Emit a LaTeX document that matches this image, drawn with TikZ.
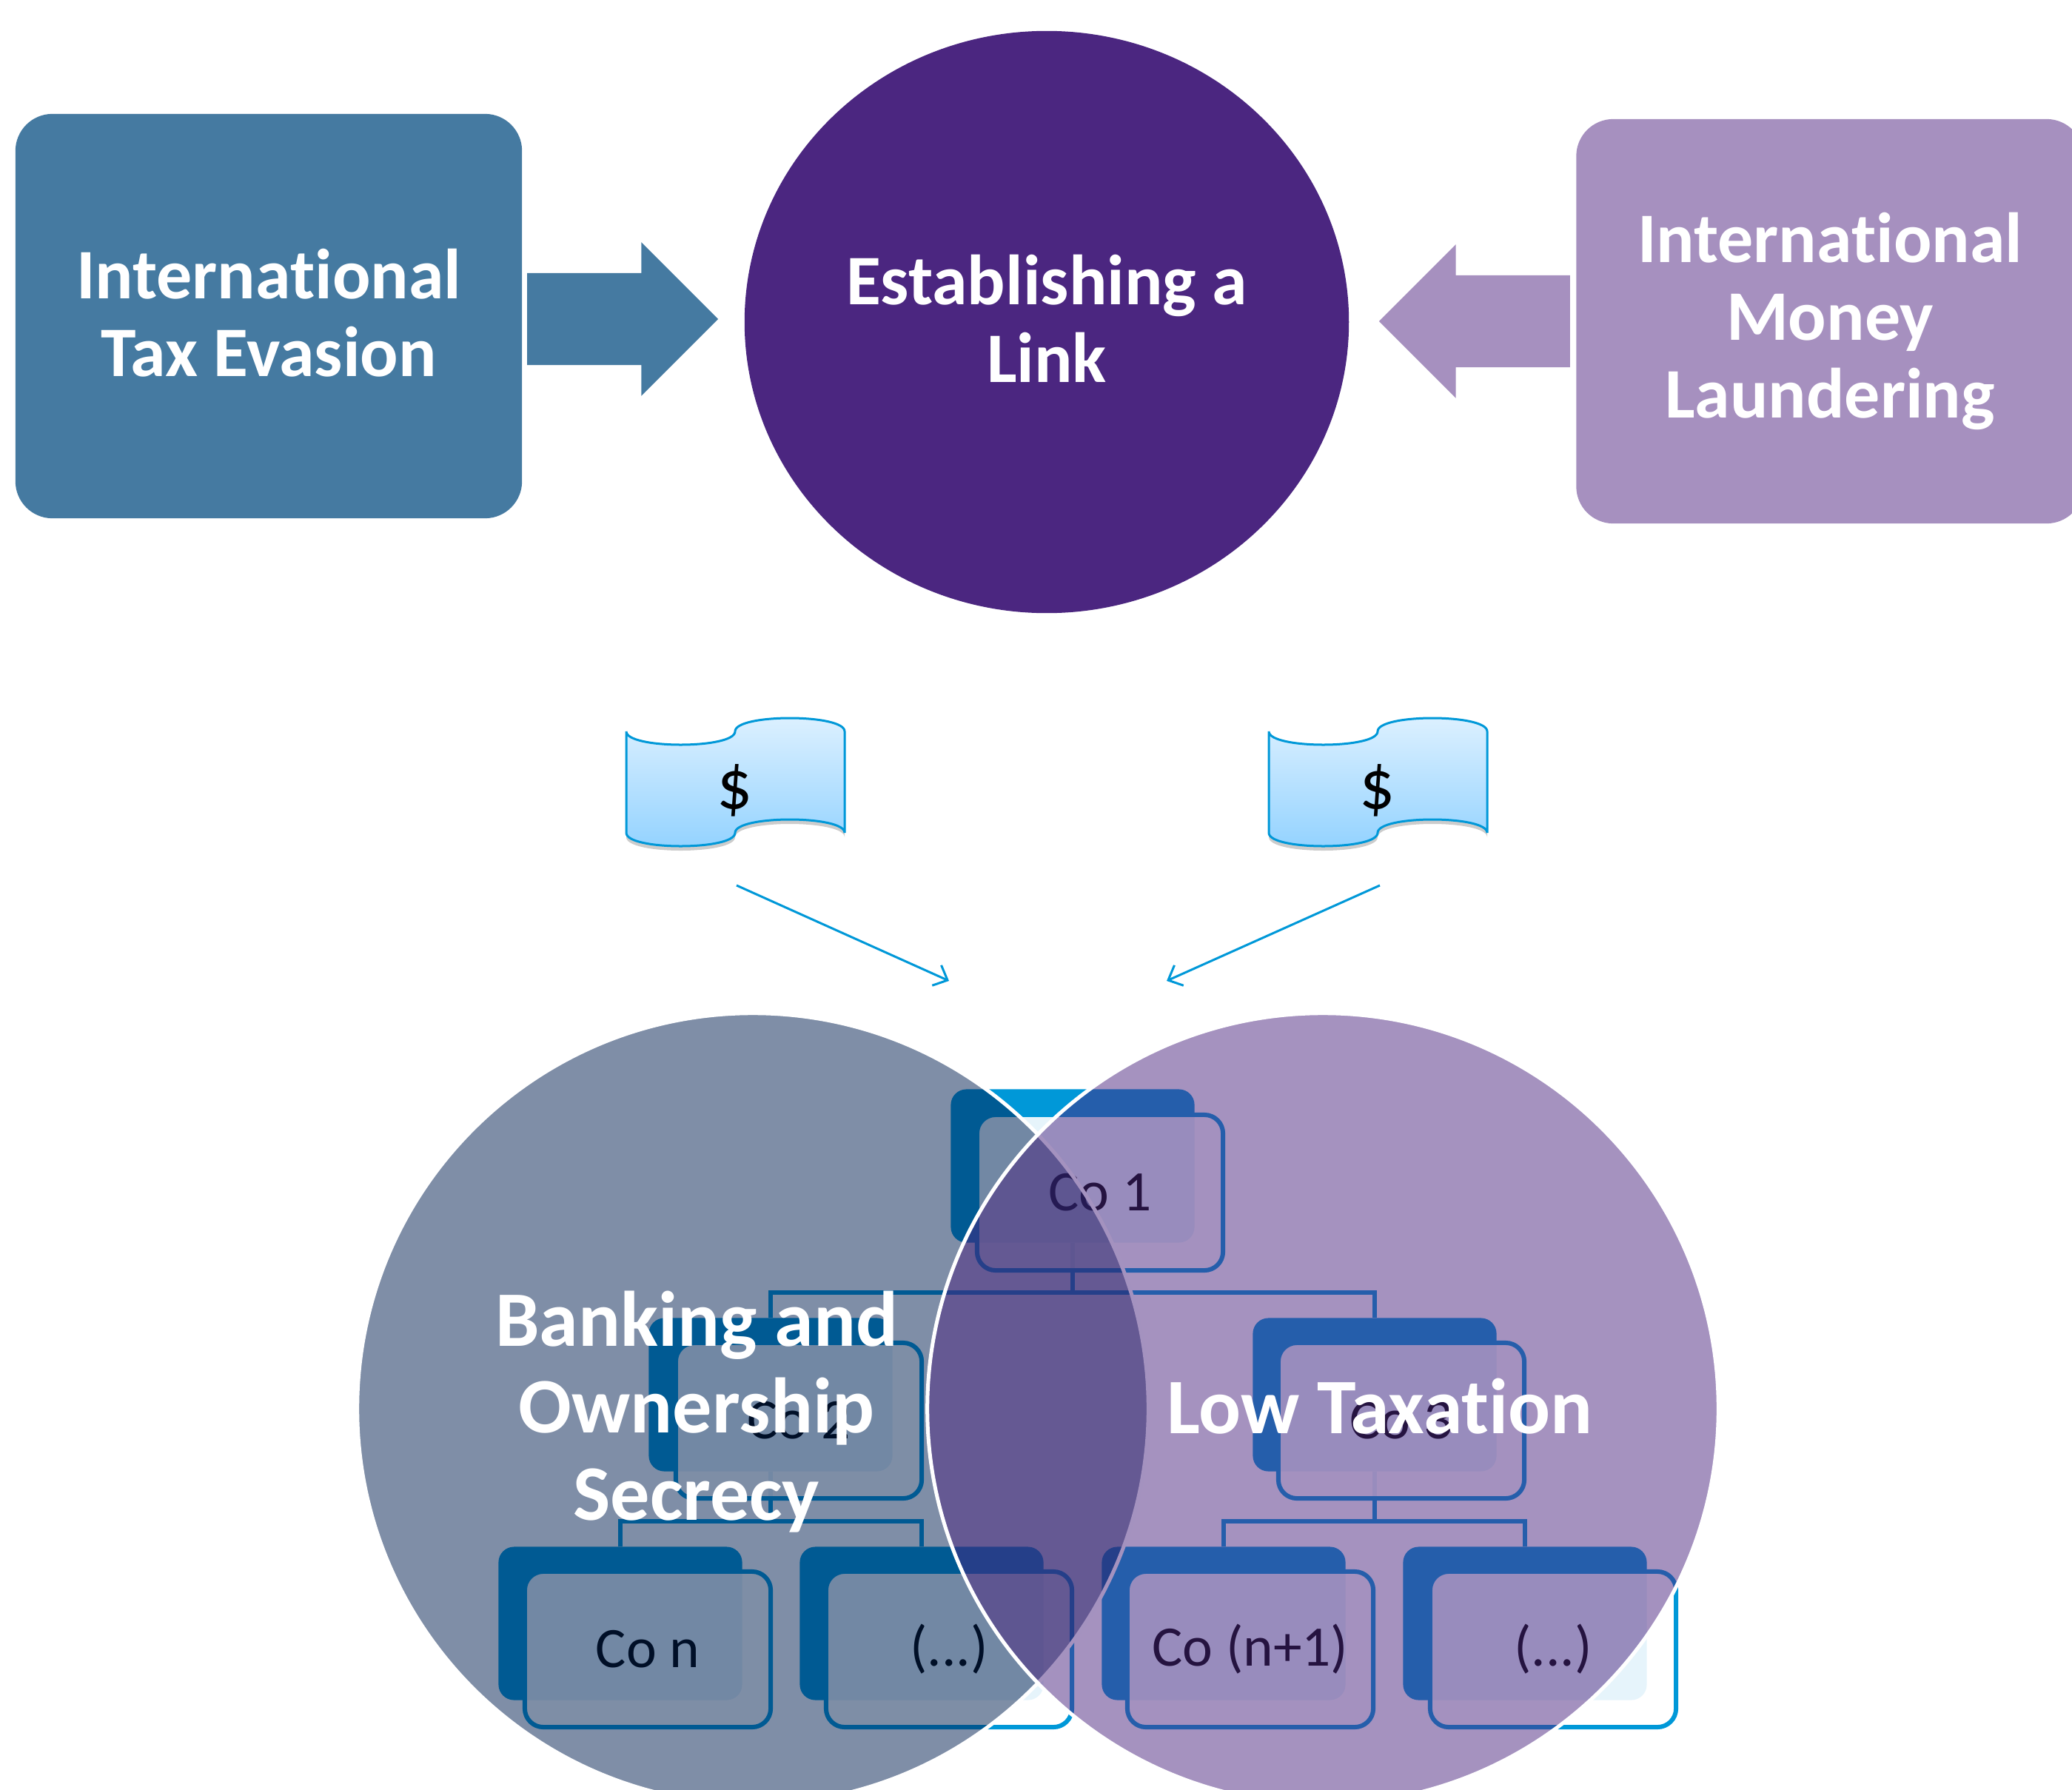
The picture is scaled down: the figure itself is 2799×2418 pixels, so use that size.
\documentclass[tikz,border=0pt]{standalone}
\usepackage{fontspec}
\setmainfont[Ligatures=NoCommon]{Carlito}
\usepackage{xcolor}
\usetikzlibrary{shapes,arrows.meta,shadows}
\definecolor{taxblue}{RGB}{69,122,161}
\definecolor{linkpurple}{RGB}{75,38,128}
\definecolor{launderlilac}{RGB}{166,144,191}
\definecolor{secrecynavy}{RGB}{0,30,79}
\definecolor{orgblue}{RGB}{0,152,216}
\definecolor{billtop}{RGB}{222,241,255}
\definecolor{billbottom}{RGB}{146,210,255}
\tikzset{
	headbox/.style={draw=none, rectangle, rounded corners=0.5cm, text=white, align=center, minimum width=6.85cm, minimum height=5.46cm, inner sep=0pt, font=\fontsize{27.3}{29.9}\selectfont\bfseries},
	blockarrow/.style={single arrow, draw=none, minimum width=2.06cm, minimum height=2.58cm, single arrow head extend=0.415cm, single arrow head indent=0pt, inner xsep=0pt, inner ysep=0.615cm},
	vennset/.style={circle, draw=white, line width=0.05cm, fill opacity=0.5, minimum size=10.68cm, inner sep=0pt},
	venntext/.style={text=white, align=center, font=\fontsize{30.2}{33.5}\selectfont\bfseries},
	backbox/.style={rectangle, fill=orgblue, rounded corners=0.21cm, minimum width=3.29cm, minimum height=2.07cm},
	frontbox/.style={rectangle, draw=orgblue, line width=0.06cm, fill=white, fill opacity=0.9, text opacity=1, rounded corners=0.25cm, minimum width=3.32cm, minimum height=2.1cm, font=\fontsize{22}{26}\selectfont},
	orgline/.style={draw=orgblue, line width=0.06cm},
	billshape/.style={draw=orgblue, line width=0.03cm, top color=billtop, bottom color=billbottom, drop shadow={shadow xshift=0cm, shadow yshift=-0.06cm, opacity=0.2, fill=black}},
	moneyarrow/.style={draw=orgblue, line width=0.03cm, -{Straight Barb[length=0.16cm, width=0.3cm]}}
}
\begin{document}
\begin{tikzpicture}[x=0.01cm, y=-0.01cm]
	\useasboundingbox (0,0) rectangle (2799,2418);
	
	% Draw top row
	\node[headbox, fill=taxblue, minimum width=6.84cm] (taxevasion) at (363,427) {International\\Tax Evasion\rule[-0.1cm]{0pt}{0.1cm}};
	\node[headbox, fill=launderlilac] (laundering) at (2472,434) {International\\Money\\Laundering};
	\node[ellipse, fill=linkpurple, text=white, align=center, minimum width=8.16cm, minimum height=7.86cm, inner sep=0pt, font=\fontsize{27.3}{29.9}\selectfont\bfseries] (link) at (1414,435) {Establishing a\\Link\rule[-0.1cm]{0pt}{0.1cm}};
	\node[blockarrow, fill=taxblue] (arrowtax) at (810,431) {};
	\node[blockarrow, fill=launderlilac, shape border rotate=180] (arrowmoney) at (2023,434) {};
	
	% Draw money notes
	\path[billshape] (846,988) .. controls (846,1012) and (993,1012) .. (993,988) .. controls (993,964) and (1141,964) .. (1141,988) -- (1141,1125) .. controls (1141,1101) and (993,1101) .. (993,1125) .. controls (993,1149) and (846,1149) .. (846,1125) -- cycle;
	\path[billshape] (1714,988) .. controls (1714,1012) and (1861,1012) .. (1861,988) .. controls (1861,964) and (2009,964) .. (2009,988) -- (2009,1125) .. controls (2009,1101) and (1861,1101) .. (1861,1125) .. controls (1861,1149) and (1714,1149) .. (1714,1125) -- cycle;
	\node[font=\fontsize{27}{30}\selectfont] (dollarL) at (993,1068) {\$};
	\node[font=\fontsize{27}{30}\selectfont] (dollarR) at (1861,1068) {\$};
	
	% Draw money flows
	\coordinate (flowstartL) at (995,1196);
	\coordinate (flowendL) at (1282,1325);
	\coordinate (flowstartR) at (1864,1196);
	\coordinate (flowendR) at (1576,1325);
	\draw[moneyarrow] (flowstartL) -- (flowendL);
	\draw[moneyarrow] (flowstartR) -- (flowendR);
	
	% Draw back boxes
	\node[backbox] (co1back) at (1449,1575) {};
	\node[backbox] (co2back) at (1041,1884) {};
	\node[backbox] (co3back) at (1857,1884) {};
	\node[backbox] (conback) at (838,2193) {};
	\node[backbox] (dotsAback) at (1245,2193) {};
	\node[backbox] (conplusback) at (1653,2193) {};
	\node[backbox] (dotsBback) at (2060,2193) {};
	
	% Draw tree connections
	\draw[orgline] (co1back.south) -- ++(0,67) -| (co2back.north);
	\draw[orgline] (co1back.south) -- ++(0,67) -| (co3back.north);
	\draw[orgline] (co2back.south) -- ++(0,67) -| (conback.north);
	\draw[orgline] (co2back.south) -- ++(0,67) -| (dotsAback.north);
	\draw[orgline] (co3back.south) -- ++(0,67) -| (conplusback.north);
	\draw[orgline] (co3back.south) -- ++(0,67) -| (dotsBback.north);
	
	% Draw front boxes
	\node[frontbox] (co1) at (1486,1611) {Co 1};
	\node[frontbox] (co2) at (1079,1919) {Co 2};
	\node[frontbox] (co3) at (1893,1919) {Co 3};
	\node[frontbox] (con) at (875,2228) {Co n};
	\node[frontbox] (dotsA) at (1282,2228) {(...)};
	\node[frontbox] (conplus) at (1689,2228) {Co (n+1)};
	\node[frontbox] (dotsB) at (2098,2228) {(...)};
	
	% Draw overlapping sets
	\node[vennset, fill=secrecynavy] (secrecy) at (1017,1903) {};
	\node[vennset, fill=linkpurple] (lowtax) at (1787,1903) {};
	\node[venntext] (secrecytext) at (941,1907) {Banking and\\Ownership\\Secrecy};
	\node[venntext] (lowtaxtext) at (1864,1900) {Low Taxation};
\end{tikzpicture}
\end{document}
